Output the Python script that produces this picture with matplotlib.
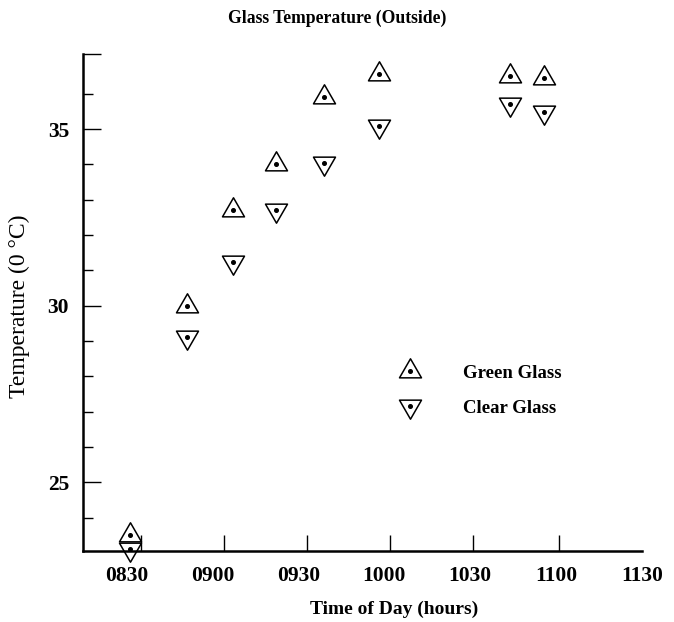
import matplotlib
matplotlib.use('Agg')
import matplotlib.pyplot as plt
from matplotlib.path import Path
from matplotlib.legend_handler import HandlerTuple

# minutes after 0800
times = [31, 51, 67, 82, 99, 118, 164, 176]
green_glass = [23.5, 30.0, 32.7, 34.0, 35.9, 36.55, 36.5, 36.45]
clear_glass = [23.1, 29.1, 31.25, 32.7, 34.05, 35.1, 35.7, 35.5]

xtick_pos = [30, 60, 90, 120, 150, 180, 210]
xtick_labels = ['0830', '0900', '0930', '1000', '1030', '1100', '1130']
xtick_marks = [35, 64, 93, 122, 151, 181, 210]
ytick_pos = [25, 30, 35]
ytick_labels = ['25', '30', '35']

plt.rcParams['font.family'] = 'Liberation Serif'

up_tri = Path([(-1, -0.577), (1, -0.577), (0, 1.155), (0, 0)],
              [Path.MOVETO, Path.LINETO, Path.LINETO, Path.CLOSEPOLY])
down_tri = Path([(-1, 0.577), (1, 0.577), (0, -1.155), (0, 0)],
                [Path.MOVETO, Path.LINETO, Path.LINETO, Path.CLOSEPOLY])

fig = plt.figure(figsize=(6.74, 6.22), dpi=100)
ax = fig.add_axes([0.1231, 0.1146, 0.829, 0.7986])

tri_style = dict(ls='none', ms=18.3, mfc='none', mec='black', mew=1.1, clip_on=False)
dot_style = dict(ls='none', marker='o', ms=2.6, color='black', clip_on=False)
g_tri, = ax.plot(times, green_glass, marker=up_tri, **tri_style)
g_dot, = ax.plot(times, green_glass, **dot_style)
c_tri, = ax.plot(times, clear_glass, marker=down_tri, **tri_style)
c_dot, = ax.plot(times, clear_glass, **dot_style)

ax.set_xlim(14.6, 210)
ax.set_ylim(23.06, 37.13)

for s in ['top', 'right']:
    ax.spines[s].set_visible(False)
for s in ['left', 'bottom']:
    ax.spines[s].set_linewidth(1.8)

ax.set_xticks(xtick_pos, xtick_labels)
ax.set_xticks(xtick_marks, minor=True)
ax.tick_params(axis='x', which='major', length=0, pad=11, labelsize=15.5)
ax.tick_params(axis='x', which='minor', direction='in', length=11.5, width=1)
for lab in ax.get_xticklabels():
    lab.set_fontweight('bold')

ax.set_yticks(ytick_pos + [37.13], ytick_labels + [''])
ax.set_yticks([24, 26, 27, 28, 29, 31, 32, 33, 34, 36], minor=True)
ax.tick_params(axis='y', which='major', direction='in', length=13, width=1, pad=10, labelsize=15.5)
ax.tick_params(axis='y', which='minor', direction='in', length=7, width=1)
for lab in ax.get_yticklabels():
    lab.set_fontweight('bold')

ax.set_xlabel('Time of Day (hours)', fontsize=14, fontweight='bold')
ax.xaxis.set_label_coords(0.557, -0.100)
ax.set_ylabel('Temperature (0 °C)', fontsize=17)
ax.yaxis.set_label_coords(-0.095, 0.493)

fig.text(0.5, 1 - 18 / 622, 'Glass Temperature (Outside)', ha='center', va='center',
         fontsize=12.7, fontweight='bold')

ax.legend([(g_tri, g_dot), (c_tri, c_dot)], ['Green Glass', 'Clear Glass'],
          handler_map={tuple: HandlerTuple(ndivide=1)}, frameon=False, numpoints=1,
          loc='center left', bbox_to_anchor=(0.535, 0.322), borderpad=0,
          handlelength=2, handletextpad=1.85, labelspacing=0.95,
          prop={'size': 13.5, 'weight': 'bold'})

plt.savefig('out.png', dpi=100)
